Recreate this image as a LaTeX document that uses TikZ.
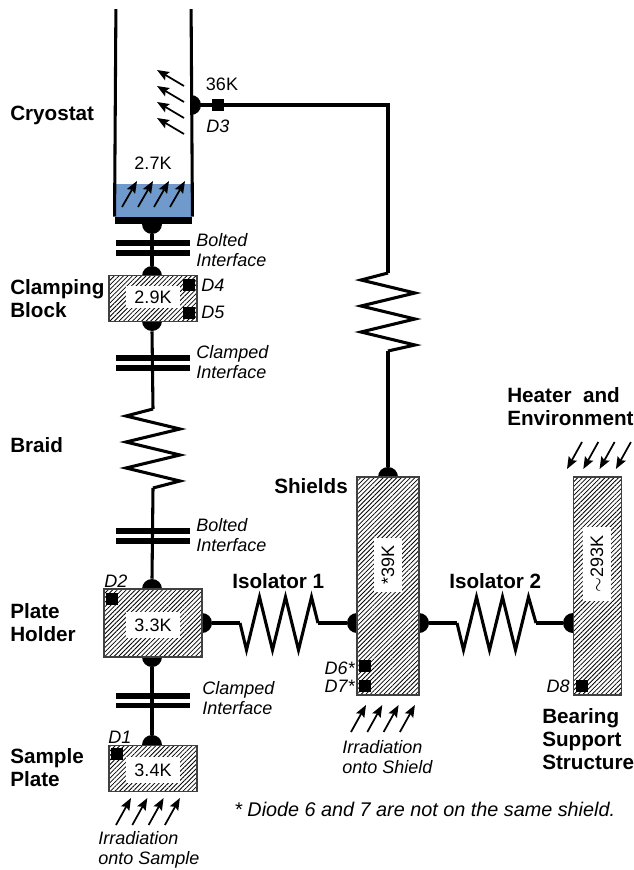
\documentclass[tikz,border=0pt]{standalone}
\usepackage{fontspec}
\setmainfont{Liberation Sans}
\usetikzlibrary{arrows.meta,patterns.meta}
\definecolor{liquidblue}{HTML}{7099CC}
\tikzstyle{wire} = [draw,line width=2.3pt,line join=miter]
\tikzstyle{ray} = [draw,line width=1.3pt,-{Stealth[length=9pt,width=7pt,inset=1.5pt]}]
\tikzstyle{junction} = [circle,fill=black,minimum size=15pt,inner sep=0pt]
\tikzstyle{block} = [rectangle,draw=black!75,line width=0.8pt,pattern={Lines[angle=45,distance=2.4pt,line width=0.6pt]},pattern color=black,preaction={fill=white},inner sep=0pt]
\tikzstyle{temp} = [fill=white,inner sep=0pt,font=\fontsize{13.5}{16}\selectfont]
\tikzstyle{diode} = [rectangle,fill=black,minimum size=8.6pt,inner sep=0pt]
\tikzstyle{plate} = [rectangle,fill=black,minimum width=56pt,minimum height=3.8pt,inner sep=0pt]
\tikzstyle{title} = [anchor=west,align=left,inner sep=0pt,font=\fontsize{15.5}{17.3}\selectfont\bfseries]
\tikzstyle{note} = [anchor=west,align=left,inner sep=0pt,font=\fontsize{13.5}{15.4}\selectfont\itshape]

% zigzag along y and along x, between two named points
\newcommand{\zigv}[2]{\draw[wire] (#1) -- ++(-27,7) -- ++(54,13) -- ++(-54,13) -- ++(54,13) -- ++(-54,13) -- ++(54,13) -- (#2);}
\newcommand{\zigh}[2]{\draw[wire] (#1) -- ++(6.5,27) -- ++(13,-53) -- ++(13,53) -- ++(13,-53) -- ++(13,53) -- ++(13,-53) -- (#2);}

\begin{document}
\begin{tikzpicture}[x=0.75pt,y=-0.75pt]

\useasboundingbox (0,0) rectangle (633,870);

%Cryostat
    \node[junction] (tubeport) at (191,105) {};
    \node[junction] (tubefoot) at (152,224) {};
    \node[rectangle,fill=white,minimum width=56pt,minimum height=157pt,inner sep=0pt] (tube) at (153.5,114) {};
    \node[rectangle,fill=liquidblue,minimum width=56pt,minimum height=25pt,inner sep=0pt] (liquid) at (153.5,200.5) {};
    \node[rectangle,fill=black,minimum width=58pt,minimum height=5.5pt,inner sep=0pt] (tubebase) at (153.5,220.5) {};
    \draw[line width=2.3pt] (tube.north west) -- (tubebase.north west);
    \draw[line width=2.3pt] (tube.north east) -- (tubebase.north east);

%Blocks, junctions go first so the blocks cut them in half
    \foreach \pos/\name in {{(152,276)/a},{(152,321)/b},{(152,589)/c},{(152,657)/d},{(202,623)/e},{(152,745)/f},{(388,477)/g},{(357,623)/h},{(419,623)/i},{(573,623)/j}}
        \node[junction] (port\name) at \pos {};

    \node[block,minimum width=66pt,minimum height=34pt] (clamp) at (153,298.5) {};
    \node[block,minimum width=73.5pt,minimum height=51pt] (holder) at (153,623) {};
    \node[block,minimum width=66pt,minimum height=35pt] (sample) at (153,768.5) {};
    \node[block,minimum width=46.5pt,minimum height=163.5pt] (shield) at (388,586) {};
    \node[block,minimum width=36.5pt,minimum height=163.5pt] (support) at (597.5,586) {};

    \node[temp,minimum width=41pt,minimum height=17pt] (tclamp) at (153,297) {2.9K};
    \node[temp,minimum width=41pt,minimum height=19.5pt] (tholder) at (153,625) {3.3K};
    \node[temp,minimum width=41pt,minimum height=19.5pt] (tsample) at (153,770) {3.4K};
    \node[temp,rotate=90,minimum width=41pt,minimum height=21pt] (tshield) at (388,565) {*39K};
    \node[temp,rotate=90,minimum width=55.5pt,minimum height=21pt] (tsupport) at (597,564) {$\mathtt{\sim}$293K};
    \node[temp,fill=none] (tliquid) at (153,163) {2.7K};
    \node[temp,fill=none] (ttube) at (222,84) {36K};

%Diodes
    \foreach \pos/\name in {{(218,105)/3},{(189,285)/4},{(189,313)/5},{(112,599)/2},{(117,754)/1},{(365,666)/6},{(365,686)/7},{(582,686)/8}}
        \node[diode] (diode\name) at \pos {};

%Plates
    \foreach \y/\name in {243/a,253/b,358/c,368/d,531/e,541/f,696/g,705.5/h}
        \node[plate] (plate\name) at (153,\y) {};

%Wires
    \coordinate (zigAtop) at (153,409);
    \coordinate (zigAbot) at (153,488);
    \coordinate (zigBtop) at (388,273);
    \coordinate (zigBbot) at (388,351);
    \coordinate (zigCleft) at (240,623);
    \coordinate (zigCright) at (318,623);
    \coordinate (zigDleft) at (457,623);
    \coordinate (zigDright) at (536,623);
    \coordinate (bend) at (388,105);

    \draw[wire] (tubefoot.south) -- (porta.north);
    \draw[wire] (portb.south) -- (zigAtop);
    \zigv{zigAtop}{zigAbot}
    \draw[wire] (zigAbot) -- (portc.north);
    \draw[wire] (portd.south) -- (portf.north);
    \draw[wire] (tubeport.center) -- (bend) -- (zigBtop);
    \zigv{zigBtop}{zigBbot}
    \draw[wire] (zigBbot) -- (portg.north);
    \draw[wire] (porte.east) -- (zigCleft);
    \zigh{zigCleft}{zigCright}
    \draw[wire] (zigCright) -- (porth.west);
    \draw[wire] (porti.east) -- (zigDleft);
    \zigh{zigDleft}{zigDright}
    \draw[wire] (zigDright) -- (portj.west);

%Rays
    \foreach \name/\sx/\sy/\ex/\ey/\ox/\oy in {liq/122/207/137/181/16/0, gas/184/134/157/118/0/-16, smp/116/825/131/798/16.3/0, shd/351/732/366/705/16.3/0, env/582/442/567/469/16.3/0}
        \foreach \i in {0,...,3} {
            \coordinate (\name\i s) at (\sx+\i*\ox,\sy+\i*\oy);
            \coordinate (\name\i e) at (\ex+\i*\ox,\ey+\i*\oy);
            \draw[ray] (\name\i s) -- (\name\i e);
        }

%Labels
    \node[title] (lcryo) at (10,115) {Cryostat};
    \node[title] (lclamp) at (10,299) {Clamping\\Block};
    \node[title] (lbraid) at (10,445) {Braid};
    \node[title] (lplate) at (10,623) {Plate\\Holder};
    \node[title] (lsample) at (10,768) {Sample\\Plate};
    \node[title] (lshield) at (274,486) {Shields};
    \node[title] (liso1) at (232,581) {Isolator 1};
    \node[title] (liso2) at (449,581) {Isolator 2};
    \node[title] (lheat) at (507,407) {Heater~~and\\Environment};
    \node[title] (lbear) at (542,739) {Bearing\\Support\\Structure};

    \node[note] (nbolta) at (196,250) {Bolted\\Interface};
    \node[note] (nclampa) at (196,362) {Clamped\\Interface};
    \node[note] (nboltb) at (196,535) {Bolted\\Interface};
    \node[note] (nclampb) at (202,698) {Clamped\\Interface};
    \node[note] (nshield) at (342,757) {Irradiation\\onto Shield};
    \node[note] (nsample) at (98,850) {Irradiation\\onto Sample};
    \node[note,font=\fontsize{14.85}{17}\selectfont\itshape] (nfoot) at (234,809) {* Diode 6 and 7 are not on the same shield.};

    \node[note] (nd3) at (206,126) {D3};
    \node[note] (nd4) at (201,285) {D4};
    \node[note] (nd5) at (201,312) {D5};
    \node[note] (nd2) at (104,581) {D2};
    \node[note] (nd1) at (108,737) {D1};
    \node[note,anchor=east] (nd6) at (355,668) {D6*};
    \node[note,anchor=east] (nd7) at (355,686) {D7*};
    \node[note,anchor=east] (nd8) at (570,686) {D8};

\end{tikzpicture}
\end{document}
